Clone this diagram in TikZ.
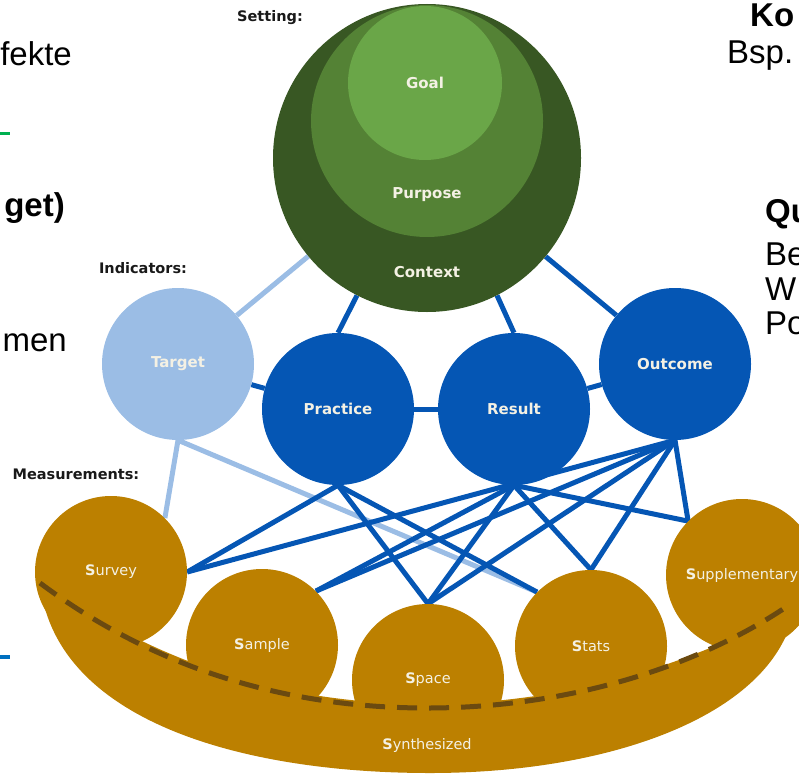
\documentclass[tikz,border=0pt]{standalone}
\usepackage{fontspec}
\usepackage{xcolor}
\usetikzlibrary{backgrounds}
\newfontfamily\diagfont{DejaVu Sans}
\newfontfamily\slidefont{Liberation Sans}
\definecolor{ctxgreen}{HTML}{385723}
\definecolor{purgreen}{HTML}{548235}
\definecolor{goalgreen}{HTML}{6AA648}
\definecolor{tgtblue}{HTML}{9BBDE5}
\definecolor{indblue}{HTML}{0556B4}
\definecolor{measgold}{HTML}{BC8000}
\definecolor{dashbrown}{HTML}{6B4A10}
\definecolor{lbltext}{HTML}{F4F1E4}
\definecolor{slidegreen}{HTML}{00B050}
\definecolor{slideblue}{HTML}{0070C0}

\begin{document}
\begin{tikzpicture}[x=1pt, y=-1pt,
  blob/.style={circle, inner sep=0pt, minimum size=152pt, text=lbltext, font=\diagfont\fontsize{15}{17}\selectfont\bfseries},
  ind/.style={blob, fill=indblue},
  meas/.style={blob, fill=measgold, font=\diagfont\fontsize{14.5}{17}\selectfont},
  inlbl/.style={text=lbltext, font=\diagfont\fontsize{15}{17}\selectfont\bfseries},
  head/.style={text=black!90, font=\diagfont\fontsize{14.5}{17}\selectfont\bfseries},
  link/.style={line width=5pt, indblue},
  lightlink/.style={line width=5pt, tgtblue},
  slide/.style={inner sep=0pt, font=\slidefont\fontsize{33}{38}\selectfont},
  slidebf/.style={slide, font=\slidefont\fontsize{33}{38}\selectfont\bfseries}]
\useasboundingbox (0,0) rectangle (799,773);

% setting
\node[blob, fill=ctxgreen, minimum size=308pt] (context) at (427,158) {};
\node[blob, fill=purgreen, minimum size=232pt] (purpose) at (427,121) {};
\node[blob, fill=goalgreen, minimum size=154pt] (goal) at (425,83) {Goal};
\node[inlbl] at (427,195) {Purpose};
\node[inlbl] at (427,272) {Context};
\node[head] at (270,18) {Setting:};

% indicators
\node[blob, fill=tgtblue] (target) at (178,364) {Target};
\node[ind] (practice) at (338,409) {Practice};
\node[ind] (result) at (514,409) {Result};
\node[ind] (outcome) at (675,364) {Outcome};
\node[head] at (143,268) {Indicators:};

% measurements
\node[meas] (survey) at (111,572) {{\bfseries S}urvey};
\node[meas] (sample) at (262,645) {{\bfseries S}ample};
\node[meas] (space) at (428,680) {{\bfseries S}pace};
\node[meas] (stats) at (591,646) {{\bfseries S}tats};
\node[meas] (supp) at (742,575) {{\bfseries S}upplementary};
\node[head] at (76,474) {Measurements:};

\begin{scope}[on background layer]
\fill[measgold] (40,583) .. controls (55,720) and (240,773) .. (430,773)
  .. controls (620,773) and (780,710) .. (795,605)
  .. controls (712,656) and (580,704) .. (427,704)
  .. controls (280,704) and (150,661) .. (40,579) -- cycle;
\draw[lightlink] (context) -- (target);
\draw[lightlink] (target.south) -- (survey.north east);
\draw[lightlink] (target.south) -- (stats.north west);
\draw[link] (context) -- (outcome);
\draw[link] (context.243) -- (practice.north);
\draw[link] (context.297) -- (result.north);
\draw[link] (target) -- (practice);
\draw[link] (practice) -- (result);
\draw[link] (result) -- (outcome);
\foreach \a/\b in {practice/survey.east, practice/space.north, practice/stats.north west,
    result/sample.north east, result/space.north, result/stats.north, result/supp.north west,
    outcome/survey.east, outcome/sample.north east, outcome/space.north, outcome/stats.north,
    outcome/supp.north west}
  \draw[link] (\a.south) -- (\b);
\end{scope}

\draw[dashbrown, line width=5pt, dash pattern=on 20pt off 12pt] (40,583) .. controls (150,665) and (280,708) .. (427,708)
  .. controls (580,708) and (710,660) .. (792,603);
\node[inlbl, font=\diagfont\fontsize{14.5}{17}\selectfont] (synth) at (427,745) {{\bfseries S}ynthesized};

% cut slide text
\node[slide, anchor=base east] (fekte) at (72,66) {fekte};
\node[slidebf, anchor=base east] (get) at (65,216) {get)};
\node[slide, anchor=base east] (men) at (67,351) {men};
\draw[slidegreen, line width=3pt] (0,133) -- (10,133);
\draw[slideblue, line width=4pt] (0,657) -- (10,657);
\node[slidebf, anchor=base west] (ko) at (750,27) {Ko};
\node[slide, anchor=base west] (bsp) at (727,64) {Bsp.};
\node[slidebf, anchor=base west] (qu) at (765,222) {Qu};
\node[slide, anchor=base west] (be) at (765,265) {Be};
\node[slide, anchor=base west] (w) at (765,300) {W};
\node[slide, anchor=base west] (po) at (765,334) {Po};
\end{tikzpicture}
\end{document}
